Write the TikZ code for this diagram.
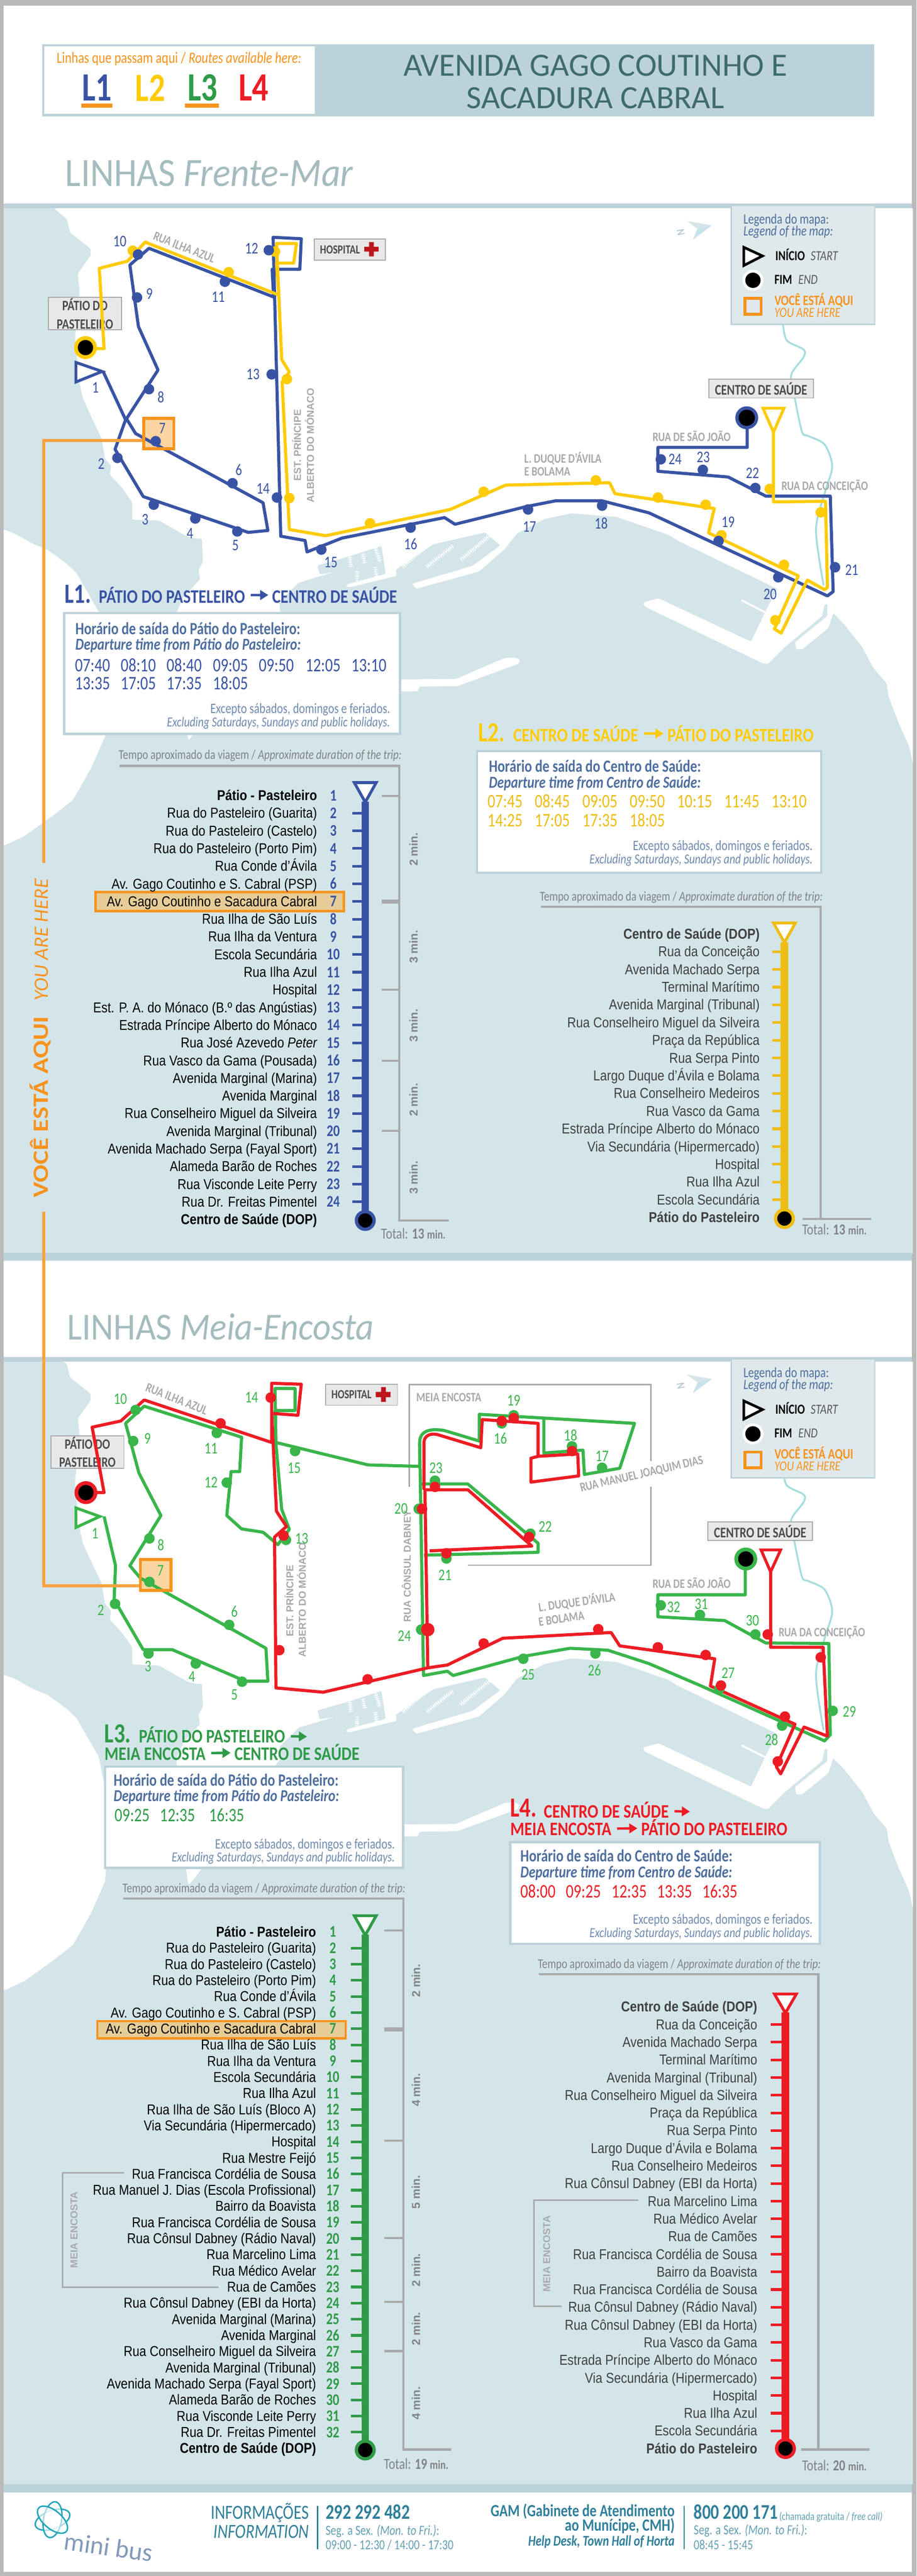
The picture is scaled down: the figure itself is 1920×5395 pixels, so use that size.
\documentclass[tikz,border=0pt]{standalone}
\usepackage{fontspec}
\usepackage{xcolor}
\usetikzlibrary{positioning,arrows.meta,shapes.geometric,calc}
\setmainfont{Carlito}
\newfontfamily\myr[FakeStretch=0.8]{Carlito}
\newfontfamily\myh[FakeStretch=0.84]{Carlito}
\newfontfamily\mys[FakeStretch=0.92]{Carlito}
\newfontfamily\myn{Carlito}
\newfontfamily\myw[FakeStretch=1.2]{Carlito}
\newfontfamily\tabf[FakeStretch=0.86]{Liberation Sans}
\newfontfamily\widf{Liberation Sans}
\newcommand{\fsz}[1]{\fontsize{#1}{#1}\selectfont}

\definecolor{sea}{HTML}{D4E5EA}
\definecolor{band}{HTML}{BCD2DA}
\definecolor{legendbg}{HTML}{DFE9EC}
\definecolor{river}{HTML}{A8DEDD}
\definecolor{frame}{HTML}{B9B9B9}
\definecolor{lblue}{HTML}{3953A4}
\definecolor{lyellow}{HTML}{FFCB05}
\definecolor{lyellowb}{HTML}{EEBD14}
\definecolor{lgreen}{HTML}{39B54A}
\definecolor{lgreenb}{HTML}{2F9A47}
\definecolor{lred}{HTML}{ED1C24}
\definecolor{here}{HTML}{F7931E}
\definecolor{herefill}{HTML}{FDD5A0}
\definecolor{rowfill}{HTML}{E6CD98}
\definecolor{graytxt}{HTML}{A7A9AC}
\definecolor{graylab}{HTML}{808285}
\definecolor{boxtxt}{HTML}{4E6E9E}
\definecolor{boxnote}{HTML}{6F8BB0}
\definecolor{teal2}{HTML}{2F7F9B}
\definecolor{title}{HTML}{3E6B6F}
\definecolor{sectitle}{HTML}{A4BCBE}

\tikzset{
  lab/.style={inner sep=0pt, outer sep=0pt},
  stoplab/.style={lab, anchor=mid east, yshift=-8pt, font=\tabf\fsz{30}},
  stopnum/.style={lab, anchor=mid, yshift=-8.5pt, font=\myr\bfseries\fsz{34}},
  mapnum/.style={lab, anchor=mid, yshift=-8.5pt, font=\myr\fsz{34}},
  street/.style={lab, font=\myr\bfseries\fsz{27}, text=graytxt},
  streetw/.style={street, anchor=mid west, yshift=-7pt},
  widelab/.style={lab, font=\widf\bfseries\fsz{21}, text=graytxt},
  streetv/.style={widelab, anchor=mid west, xshift=5pt, rotate=90},
  placebox/.style={lab, draw=graytxt, line width=2pt, fill=black!9, font=\myr\bfseries\fsz{31}, text=black!70, align=center},
  timebox/.style={draw=band, line width=5pt, fill=white},
  boxhead/.style={lab, anchor=mid west, yshift=-9pt, font=\myr\bfseries\fsz{36}, text=boxtxt},
  boxheadi/.style={boxhead, font=\myr\bfseries\itshape\fsz{35}},
  timetxt/.style={lab, anchor=mid west, yshift=-9pt, font=\myr\fsz{40}},
  note/.style={lab, anchor=mid east, yshift=-7pt, font=\myr\fsz{30}, text=boxnote},
  notei/.style={note, font=\myr\itshape\fsz{29}},
  durhead/.style={lab, anchor=mid east, yshift=-7pt, font=\myr\fsz{28}, text=graylab},
  durline/.style={draw=graytxt, line width=4.5pt},
  durtxt/.style={lab, rotate=90, font=\widf\bfseries\fsz{24}, text=graylab},
  totaltxt/.style={lab, anchor=mid west, yshift=-8pt, font=\myr\fsz{32}, text=graylab},
  linehead/.style={lab, anchor=mid west, yshift=-10.5pt, font=\myh\bfseries\fsz{40}},
  lineno/.style={lab, anchor=mid west, yshift=-14pt, font=\myr\bfseries\fsz{58}},
  headarrow/.style={line width=5pt, -{Triangle[length=17pt,width=20pt]}, shorten <=12pt, shorten >=8pt},
  route/.style={line width=6.5pt, line join=round},
  legtxt/.style={lab, anchor=mid west, yshift=-7pt},
  foot/.style={lab, yshift=-7pt, font=\myr\fsz{29}, text=teal2!75},
  foothead/.style={lab, yshift=-10pt, font=\myr\fsz{42}, text=teal2},
}

% land of Faial, same for both maps
\newcommand{\landshape}{
  \fill[white, rounded corners=3pt] (113,436) -- (140,459) -- (147,487) -- (190,521) -- (190,535) -- (163,573) -- (167,612) -- (157,707) -- (167,803) -- (173,832) -- (190,870) -- (213,918) -- (220,961) -- (233,975) -- (230,994) -- (257,1023) -- (277,1052) -- (277,1088) -- (333,1090) -- (393,1124) -- (410,1128) -- (423,1128) -- (425,1177) -- (416,1193) -- (419,1213) -- (385,1250) -- (370,1282) -- (370,1300) -- (392,1535) -- (395,1550) -- (408,1535) -- (587,1285) -- (585,1260) -- (626,1220) -- (700,1198) -- (669,1203) -- (665,1184) -- (732,1165) -- (799,1143) -- (808,1202) -- (729,1223) -- (724,1228) -- (732,1230) -- (831,1206) -- (829,1193) -- (907,1140) -- (1016,1115) -- (1048,1142) -- (990,1185) -- (882,1217) -- (863,1223) -- (872,1233) -- (1003,1197) -- (1057,1150) -- (1083,1117) -- (1140,1087) -- (1197,1075) -- (1293,1083) -- (1400,1120) -- (1419,1132) -- (1628,1233) -- (1604,1279) -- (1573,1344) -- (1379,1253) -- (1347,1262) -- (1350,1270) -- (1597,1389) -- (1608,1391) -- (1644,1355) -- (1722,1290) -- (1727,1265) -- (1733,1265) -- (1733,1290) -- (1665,1345) -- (1668,1360) -- (1680,1360) -- (1735,1315) -- (1745,1284) -- (1767,1306) -- (1806,1355) -- (1830,1400) -- (1857,1431) -- (1861,1458) -- (1881,1511) -- (1905,1565) -- (1912,1600) -- (1912,436) -- cycle;
  \fill[white, rounded corners=3pt] (8,1109) -- (33,1119) -- (67,1138) -- (100,1152) -- (140,1181) -- (160,1200) -- (207,1282) -- (230,1400) -- (220,1542) -- (191,1608) -- (153,1675) -- (115,1705) -- (51,1751) -- (8,1771) -- cycle;
  \fill[white, rounded corners=3pt] (840,1423) -- (955,1422) -- (1057,1378) -- (1079,1377) -- (1089,1382) -- (1086,1390) -- (958,1437) -- (878,1438) -- (875,1448) -- (840,1448) -- cycle;
  % pontoons
  \foreach \xa/\ya/\xb/\yb in {732/1163/735/1187, 760/1160/764/1180, 786/1147/796/1177, 748/1197/748/1218, 786/1188/789/1208, 843/1187/888/1147, 894/1187/949/1143, 965/1172/1028/1120}{
    \draw[white, line width=1.5pt] (\xa,\ya) -- (\xb,\yb);
    \draw[white, line width=9pt, dash pattern=on 1.5pt off 3pt] (\xa,\ya) -- (\xb,\yb);
  }
  \draw[white, line width=4pt] (1553,1257) -- (1602,1282);
  % stream
  \draw[river, line width=4pt, line join=round] plot[smooth] coordinates {(1640,679) (1648,713) (1683,732) (1683,748) (1657,786) (1665,836) (1680,905) (1693,913) (1727,931) (1743,977) (1727,1034) (1709,1110) (1725,1226)};
}

% rows of a line table: name, first y, step, right x, labels
\newcommand{\stoprows}[5]{
  \foreach \t [count=\i] in {#5}{
    \pgfmathsetmacro\yy{#2+(\i-1)*(#3)}
    \node[stoplab] (#1row\i) at (#4,\yy) {\t};
  }
}
% numbers: name, first y, step, x, count, colour
\newcommand{\stopnums}[6]{
  \foreach \i in {1,...,#5}{
    \pgfmathsetmacro\yy{#2+(\i-1)*(#3)}
    \node[stopnum, text=#6] (#1num\i) at (#4,\yy) {\i};
  }
}
% ticks: first y, step, x from, x to, count, colour
\newcommand{\stopticks}[6]{
  \foreach \i in {2,...,#5}{
    \pgfmathsetmacro\yy{#1+(\i-1)*(#2)}
    \draw[#6, line width=5.5pt] (#3,\yy) -- (#4,\yy);
  }
}
% bar with start triangle and end ring: x, top y, tip y, end y, colour
\newcommand{\linebar}[5]{
  \draw[#5, line width=16pt] (#1,#3-8) -- (#1,#4);
  \draw[#5, line width=6pt, fill=white, line join=miter] ($(#1,#2)+(-23,3)$) -- ($(#1,#2)+(23,3)$) -- (#1,#3-7) -- cycle;
  \fill[#5] (#1,#4) circle[radius=22pt];
  \fill[black] (#1,#4) circle[radius=15pt];
}

\begin{document}
\begin{tikzpicture}[x=1pt, y=-1pt]
\useasboundingbox (0,0) rectangle (1920,5395);
%Page
\fill[frame] (0,0) rectangle (1920,5395);
\fill[white] (8,12) rectangle (1910,5386);

%Header
\fill[band] (89,93) rectangle (1831,244);
\fill[white] (93,97) rectangle (659,238);
\node[lab, font=\myr\fsz{33}, text=here] (hdrroutes) at (375,123) {Linhas que passam aqui / \itshape Routes available here:};
\node[lab, font=\myr\bfseries\fsz{84}, text=lblue] (hdrl1) at (203,184) {L1};
\node[lab, font=\myr\bfseries\fsz{84}, text=lyellow] (hdrl2) at (315,184) {L2};
\node[lab, font=\myr\bfseries\fsz{84}, text=lgreenb] (hdrl3) at (424,184) {L3};
\node[lab, font=\myr\bfseries\fsz{84}, text=lred] (hdrl4) at (531,184) {L4};
\fill[here] (171,217) rectangle (235,226);
\fill[here] (387,217) rectangle (459,226);
\node[lab, font=\myn\fsz{68}, text=title] (hdrtitlea) at (1247,137) {AVENIDA GAGO COUTINHO E};
\node[lab, font=\myn\fsz{68}, text=title] (hdrtitleb) at (1247,205) {SACADURA CABRAL};

%Section titles
\node[lab, anchor=mid west, yshift=-21pt, font=\mys\fsz{84}, text=sectitle] (secfrente) at (137,367) {LINHAS \itshape Frente-Mar};
\node[lab, anchor=mid west, yshift=-20pt, font=\mys\fsz{80}, text=sectitle] (secmeia) at (141,2783) {LINHAS \itshape Meia-Encosta};

%Map backgrounds
\fill[sea] (8,436) rectangle (1912,2625);
\fill[sea] (8,2852) rectangle (1912,5203);
\begin{scope}
  \clip (8,436) rectangle (1912,2625);
  \landshape
\end{scope}
\begin{scope}
  \clip (8,2852) rectangle (1912,5203);
  \begin{scope}[shift={(0,2398)}]
    \landshape
  \end{scope}
\end{scope}
\fill[band] (8,426) rectangle (1910,436);
\fill[band] (8,2624) rectangle (1910,2640);
\fill[band] (8,2842) rectangle (1910,2852);
\fill[band] (8,5203) rectangle (1910,5220);

%Top map: labels
\node[street, rotate=-21.5] (topilha) at (386,518) {RUA ILHA AZUL};
\node[streetv] (topest) at (623,1007) {EST. PRÍNCIPE};
\node[streetv] (topalb) at (650,1053) {ALBERTO DO MÓNACO};
\node[streetw] (topduque) at (1098,960) {L. DUQUE D’ÁVILA};
\node[streetw] (topbol) at (1098,987) {E BOLAMA};
\node[streetw] (topsjoao) at (1367,915) {RUA DE SÃO JOÃO};
\node[streetw] (topconc) at (1637,1017) {RUA DA CONCEIÇÃO};
\node[placebox, minimum width=149pt, minimum height=44pt, font=\myr\bfseries\fsz{26}] (tophosp) at (733,523) {HOSPITAL\hspace{42pt}};
\fill[lred!80!black] (773,507) rectangle (783,537) (763,517) rectangle (793,527);
\node[placebox, minimum width=153pt, minimum height=68pt, font=\myr\bfseries\fsz{30}] (toppatio) at (178,657) {PÁTIO DO\\[8pt]PASTELEIRO};
\node[placebox, minimum width=219pt, minimum height=39pt] (topcentro) at (1594,814) {CENTRO DE SAÚDE};

%Top map: "you are here" fill
\fill[herefill] (298,873) rectangle (367,943);

%Top map: L1
\draw[lblue, route] (216,778) -- (263,879) -- (241,941) -- (300,1040) -- (520,1115) -- (561,1111) -- (551,1053) -- (284,908) -- (265,877) -- (331,775) -- (290,684) -- (272,555) -- (312,520) -- (573,622) -- (570,564) -- (628,564) -- (631,500) -- (572,497) -- (588,1123) -- (639,1132) -- (643,1156) -- (716,1127) -- (931,1084) -- (953,1098) -- (1102,1061) -- (1163,1049) -- (1261,1049) -- (1359,1074) -- (1733,1248) -- (1745,1239) -- (1739,1039) -- (1604,1039) -- (1525,999) -- (1378,987) -- (1378,937) -- (1565,937) -- (1565,879);
\draw[lblue, line width=6pt, fill=white, line join=miter] (159,759) -- (159,800) -- (214,778) -- cycle;
%Top map: L2
\draw[lyellow, route] (1620,905) -- (1620,1051) -- (1729,1050) -- (1733,1230) -- (1727,1235) -- (1691,1215) -- (1636,1326) -- (1622,1317) -- (1672,1206) -- (1484,1116) -- (1496,1065) -- (1288,1034) -- (1277,1011) -- (1059,1016) -- (943,1067) -- (682,1122) -- (606,1109) -- (591,800) -- (606,779) -- (590,753) -- (584,618) -- (579,551) -- (615,551) -- (621,510) -- (579,510) -- (584,618) -- (304,507) -- (267,547) -- (208,562) -- (218,730) -- (179,730);
\draw[lyellow, line width=6pt, fill=white, line join=miter] (1598,855) -- (1642,855) -- (1620,905) -- cycle;
\foreach \x/\y in {278/525, 479/570, 576/527, 601/794, 606/1043, 775/1096, 1013/1030, 1248/1006, 1378/1042, 1478/1057, 1511/1121, 1642/1183, 1624/1299, 1719/1073, 1612/1024}{
  \fill[lyellow] (\x,\y) circle[radius=11pt];
}
\foreach \x/\y in {246/959, 322/1057, 409/1086, 497/1113, 487/1012, 326/924, 312/815, 287/623, 289/533, 471/590, 563/524, 569/784, 580/1042, 673/1151, 860/1105, 1106/1067, 1261/1059, 1505/1133, 1630/1209, 1749/1188, 1582/1022, 1472/984, 1384/962}{
  \fill[lblue] (\x,\y) circle[radius=11pt];
}
\foreach \n/\x/\y in {1/200/812, 2/212/972, 3/304/1088, 4/398/1117, 5/493/1142, 6/500/984, 7/340/897, 8/337/832, 9/313/616, 10/251/505, 11/457/622, 12/527/521, 13/530/784, 14/551/1023, 15/693/1178, 16/860/1140, 17/1109/1103, 18/1259/1097, 19/1525/1093, 20/1613/1244, 21/1784/1194, 22/1576/991, 23/1473/958, 24/1414/962}{
  \node[mapnum, text=lblue] (topstop\n) at (\x,\y) {\n};
}
\fill[lyellow] (179,728) circle[radius=24pt];
\fill[black] (179,728) circle[radius=16pt];
\fill[lblue] (1564,875) circle[radius=24pt];
\fill[black] (1564,875) circle[radius=17pt];
\draw[here, line width=6pt] (301,876) rectangle (364,940);

%Legend and north arrow, both maps
\foreach \ly/\lname in {0/lega, 2416/legb}{
  \begin{scope}[shift={(0,\ly)}]
    \draw[draw=band, line width=3pt, fill=legendbg] (1532,430) rectangle (1832,679);
    \node[legtxt, font=\myr\fsz{30}, text=boxtxt] (\lname t1) at (1557,459) {Legenda do mapa:};
    \node[legtxt, font=\myr\itshape\fsz{30}, text=boxtxt] (\lname t2) at (1557,484) {Legend of the map:};
    \draw[black, line width=5.5pt, fill=white, line join=miter] (1558,518) -- (1558,556) -- (1597,536) -- cycle;
    \node[legtxt, font=\myr\bfseries\fsz{29}] (\lname t3) at (1624,536) {INÍCIO};
    \node[legtxt, font=\myr\itshape\fsz{29}, text=black!65] (\lname t4) at (1698,536) {START};
    \fill[white] (1577,587) circle[radius=22pt];
    \fill[black] (1577,587) circle[radius=16pt];
    \node[legtxt, font=\myr\bfseries\fsz{29}] (\lname t5) at (1622,586) {FIM};
    \node[legtxt, font=\myr\itshape\fsz{29}, text=black!65] (\lname t6) at (1672,586) {END};
    \draw[here, line width=6pt] (1560,625) rectangle (1594,658);
    \node[legtxt, font=\myr\bfseries\fsz{30}, text=here] (\lname t7) at (1622,630) {VOCÊ ESTÁ AQUI};
    \node[legtxt, font=\myr\itshape\fsz{29}, text=here] (\lname t8) at (1622,655) {YOU ARE HERE};
    \fill[band!60] (1439,463) -- (1491,472) -- (1461,479) -- cycle;
    \fill[band!120!gray] (1491,472) -- (1451,502) -- (1461,479) -- cycle;
    \node[lab, rotate=-80, font=\myr\bfseries\fsz{24}, text=band!90!gray] (\lname n) at (1426,487) {N};
  \end{scope}
}

%L1 panel
\node[lineno, text=lblue] (aone) at (135,1247) {L1.};
\node[linehead, text=lblue] (afrom) at (207,1250) {PÁTIO DO PASTELEIRO};
\node[linehead, text=lblue] (ato) at (570,1250) {CENTRO DE SAÚDE};
\draw[lblue, headarrow] (afrom) -- (ato);
\draw[timebox] (134,1284) rectangle (838,1537);
\node[boxhead] (ahead) at (158,1317) {Horário de saída do Pátio do Pasteleiro:};
\node[boxheadi] (aheadi) at (158,1350) {Departure time from Pátio do Pasteleiro:};
\foreach \t/\x in {07:40/157, 08:10/253, 08:40/349, 09:05/446, 09:50/542, 12:05/640, 13:10/736}{
  \node[timetxt, text=lblue] (atime\x) at (\x,1395) {\t};
}
\foreach \t/\x in {13:35/157, 17:05/253, 17:35/349, 18:05/446}{
  \node[timetxt, text=lblue] (atimeb\x) at (\x,1433) {\t};
}
\node[note] (anote) at (817,1485) {Excepto sábados, domingos e feriados.};
\node[notei] (anotei) at (817,1512) {Excluding Saturdays, Sundays and public holidays.};
\node[durhead] (adur) at (841,1581) {Tempo aproximado da viagem / \itshape Approximate duration of the trip:};
\draw[durline] (250,1604) -- (836,1604) -- (836,2556) -- (940,2556);
\foreach \y/\w in {1667/4.5, 1888/9, 2073/4.5, 2222/4.5, 2368/4.5}{
  \draw[durline, line width=\w pt] (800,\y) -- (836,\y);
}
\foreach \t/\y in {2/1779, 3/1983, 3/2148, 2/2303, 3/2466}{
  \node[durtxt] (adur\y) at (866,\y) {\t{} min.};
}
\node[totaltxt] (atotal) at (798,2584) {Total: \bfseries 13 \fsz{26}min.};
\draw[here, line width=5pt, fill=rowfill] (200,1868) rectangle (720,1908);
\stoprows{a}{1666}{37}{664}{{\bfseries Pátio - Pasteleiro}, Rua do Pasteleiro (Guarita), Rua do Pasteleiro (Castelo), Rua do Pasteleiro (Porto Pim), Rua Conde d’Ávila, Av. Gago Coutinho e S. Cabral (PSP), Av. Gago Coutinho e Sacadura Cabral, Rua Ilha de São Luís, Rua Ilha da Ventura, Escola Secundária, Rua Ilha Azul, Hospital, Est. P. A. do Mónaco (B.º das Angústias), Estrada Príncipe Alberto do Mónaco, Rua José Azevedo {\itshape Peter}, Rua Vasco da Gama (Pousada), Avenida Marginal (Marina), Avenida Marginal, Rua Conselheiro Miguel da Silveira, Avenida Marginal (Tribunal), Avenida Machado Serpa (Fayal Sport), Alameda Barão de Roches, Rua Visconde Leite Perry, Rua Dr. Freitas Pimentel, {\bfseries Centro de Saúde (DOP)}}
\stopnums{a}{1666}{37}{698}{24}{lblue}
\stopticks{1666}{37}{738}{760}{24}{lblue}
\linebar{765}{1636}{1687}{2556}{lblue}

%L2 panel
\node[lineno, text=lyellow] (btwo) at (1002,1537) {L2.};
\node[linehead, text=lyellow] (bfrom) at (1075,1540) {CENTRO DE SAÚDE};
\node[linehead, text=lyellow] (bto) at (1398,1540) {PÁTIO DO PASTELEIRO};
\draw[lyellow, headarrow] (bfrom) -- (bto);
\draw[timebox] (999,1573) rectangle (1720,1828);
\node[boxhead] (bhead) at (1024,1605) {Horário de saída do Centro de Saúde:};
\node[boxheadi] (bheadi) at (1024,1639) {Departure time from Centro de Saúde:};
\foreach \t/\x in {07:45/1021, 08:45/1120, 09:05/1220, 09:50/1319, 10:15/1418, 11:45/1517, 13:10/1616}{
  \node[timetxt, text=lyellowb] (btime\x) at (\x,1680) {\t};
}
\foreach \t/\x in {14:25/1021, 17:05/1120, 17:35/1220, 18:05/1319}{
  \node[timetxt, text=lyellowb] (btimeb\x) at (\x,1720) {\t};
}
\node[note] (bnote) at (1702,1771) {Excepto sábados, domingos e feriados.};
\node[notei] (bnotei) at (1702,1800) {Excluding Saturdays, Sundays and public holidays.};
\node[durhead] (bdur) at (1723,1877) {Tempo aproximado da viagem / \itshape Approximate duration of the trip:};
\draw[durline] (1133,1899) -- (1719,1899) -- (1719,2553);
\draw[durline] (1681,2553) -- (1825,2553);
\node[totaltxt] (btotal) at (1680,2575) {Total: \bfseries 13 \fsz{26}min.};
\begin{scope}[text=black!75]
\stoprows{b}{1956}{37.1}{1591}{{\bfseries Centro de Saúde (DOP)}, Rua da Conceição, Avenida Machado Serpa, Terminal Marítimo, Avenida Marginal (Tribunal), Rua Conselheiro Miguel da Silveira, Praça da República, Rua Serpa Pinto, Largo Duque d’Ávila e Bolama, Rua Conselheiro Medeiros, Rua Vasco da Gama, Estrada Príncipe Alberto do Mónaco, Via Secundária (Hipermercado), Hospital, Rua Ilha Azul, Escola Secundária, {\bfseries Pátio do Pasteleiro}}
\end{scope}
\stopticks{1956}{37.1}{1617}{1637}{16}{lyellowb}
\linebar{1643}{1930}{1981}{2552}{lyellowb}

%Lower map: frame and labels
\draw[graytxt, line width=3pt] (857,3114) -- (857,2900) -- (1363,2900) -- (1363,3060);
\draw[graytxt, line width=3pt] (1363,3114) -- (1363,3278) -- (980,3278);
\node[street] (lowmeia) at (940,2927) {MEIA ENCOSTA};
\node[street, rotate=-21.5] (lowilha) at (370,2930) {RUA ILHA AZUL};
\node[streetv] (lowest) at (607,3427) {EST. PRÍNCIPE};
\node[streetv] (lowalb) at (633,3471) {ALBERTO DO MÓNACO};
\node[streetv] (lowcons) at (853,3397) {RUA CÔNSUL DABNEY};
\node[street, rotate=13] (lowmanuel) at (1344,3088) {RUA MANUEL JOAQUIM DIAS};
\node[streetw, rotate=8] (lowduque) at (1129,3366) {L. DUQUE D’ÁVILA};
\node[streetw, rotate=8] (lowbol) at (1129,3396) {E BOLAMA};
\node[streetw] (lowsjoao) at (1367,3317) {RUA DE SÃO JOÃO};
\node[streetw] (lowconc) at (1631,3418) {RUA DA CONCEIÇÃO};
\node[placebox, minimum width=151pt, minimum height=44pt, font=\myr\bfseries\fsz{26}] (lowhosp) at (757,2921) {HOSPITAL\hspace{42pt}};
\fill[lred!80!black] (798,2905) rectangle (808,2936) (787,2915) rectangle (818,2926);
\node[placebox, minimum width=153pt, minimum height=68pt, font=\myr\bfseries\fsz{30}] (lowpatio) at (183,3041) {PÁTIO DO\\[8pt]PASTELEIRO};
\node[placebox, minimum width=219pt, minimum height=39pt] (lowcentro) at (1592,3207) {CENTRO DE SAÚDE};

%Lower map: "you are here" fill
\fill[herefill] (291,3263) rectangle (361,3334);

%Lower map: L3
\draw[lgreen, route] (218,3176) -- (242,3279) -- (239,3350) -- (300,3455) -- (361,3455) -- (514,3521) -- (561,3521) -- (557,3452) -- (294,3305) -- (272,3279) -- (337,3174) -- (291,3085) -- (263,2981) -- (302,2945) -- (506,3010) -- (502,3082) -- (484,3082) -- (475,3174) -- (506,3202) -- (551,3209) -- (582,3235) -- (606,3203) -- (590,3161) -- (578,3024) -- (576,2954) -- (618,2954) -- (618,2908) -- (576,2908) -- (578,3021) -- (771,3068) -- (879,3071);
\draw[lgreen, route] (879,3071) -- (879,3021) .. controls (879,3000) and (895,2990) .. (931,2996) -- (1004,3018) -- (1004,2962) -- (1329,2981) -- (1298,3075) -- (1224,3088) -- (1221,3037) -- (1139,3043) -- (1139,2973);
\draw[lgreen, route] (882,3108) -- (980,3108) -- (1127,3232) -- (1127,3251) -- (888,3257);
\draw[lgreen, route] (879,3021) -- (887,3509) -- (937,3500) -- (949,3509) -- (1096,3469) -- (1194,3452) -- (1273,3456) -- (1359,3484) -- (1469,3531) -- (1727,3646) -- (1739,3633) -- (1736,3442) -- (1604,3441) -- (1518,3394) -- (1378,3386) -- (1378,3340) -- (1561,3340) -- (1561,3267);
\draw[lgreen, line width=6pt, fill=white, line join=miter] (159,3158) -- (159,3199) -- (209,3176) -- cycle;
%Lower map: L4
\draw[lred, route] (1614,3292) -- (1614,3450) -- (1724,3450) -- (1733,3636) -- (1684,3617) -- (1635,3715) -- (1626,3700) -- (1665,3611) -- (1488,3531) -- (1497,3474) -- (1298,3447) -- (1280,3419) -- (1053,3431) -- (937,3487) -- (896,3493) -- (677,3544) -- (578,3535) -- (575,3219) -- (600,3197) -- (579,3165) -- (569,2960) -- (569,2897) -- (631,2899) -- (624,2964) -- (569,2960) -- (569,3021) -- (302,2932) -- (253,2976) -- (193,2989) -- (218,3126) -- (180,3126);
\draw[lred, route] (896,3493) -- (890,3120) -- (980,3120) -- (1114,3238) -- (900,3248);
\draw[lred, route] (888,3120) -- (888,3021) .. controls (888,3008) and (900,3000) .. (918,3005) -- (1007,3032) -- (1010,2973) -- (1127,2981) -- (1127,3050) -- (1210,3045) -- (1212,3091) -- (1112,3104) -- (1112,3054) -- (1127,3050);
\draw[lred, line width=6pt, fill=white, line join=miter] (1594,3246) -- (1635,3246) -- (1614,3292) -- cycle;
\foreach \x/\y in {241/3359, 311/3463, 410/3484, 507/3522, 480/3403, 313/3313, 313/3222, 279/3018, 284/2953, 454/3001, 475/3105, 599/3225, 618/3039, 1051/2981, 1261/3074, 1198/3029, 1076/2964, 877/3160, 935/3264, 1111/3212, 911/3101, 882/3413, 1096/3474, 1247/3463, 1506/3538, 1638/3614, 1744/3583, 1582/3423, 1466/3382, 1384/3362}{
  \fill[lgreen] (\x,\y) circle[radius=11pt];
}
\foreach \x/\y in {462/2981, 567/2927, 594/3216, 585/3456, 770/3517, 1013/3442, 1253/3412, 1378/3450, 1478/3466, 1510/3530, 1644/3595, 1629/3689, 1608/3423, 1719/3471, 1108/3219, 935/3253, 911/3114, 884/3160, 1051/2976, 1076/2970, 1198/3039}{
  \fill[lred] (\x,\y) circle[radius=11pt];
}
\fill[lred] (896,3413) circle[radius=14pt];
\foreach \n/\x/\y in {1/199/3212, 2/211/3372, 3/310/3490, 4/402/3512, 5/491/3549, 6/491/3376, 7/336/3289, 8/337/3236, 9/309/3013, 10/252/2930, 11/442/3033, 12/442/3105, 13/632/3222, 14/527/2927, 15/616/3074, 16/1048/3013, 17/1261/3050, 18/1195/3006, 19/1076/2933, 20/840/3160, 21/932/3299, 22/1142/3198, 23/913/3074, 24/847/3426, 25/1106/3507, 26/1245/3498, 27/1525/3504, 28/1616/3644, 29/1779/3585, 30/1576/3394, 31/1469/3359, 32/1411/3366}{
  \node[mapnum, text=lgreen] (lowstop\n) at (\x,\y) {\n};
}
\fill[lred] (180,3126) circle[radius=24pt];
\fill[black] (180,3126) circle[radius=16pt];
\fill[lgreen] (1562,3265) circle[radius=24pt];
\fill[black] (1562,3265) circle[radius=16pt];
\draw[here, line width=6pt] (294,3266) rectangle (358,3331);

%You are here line
\coordinate (herea) at (298,923);
\coordinate (hereb) at (92,1807);
\coordinate (herec) at (92,2538);
\coordinate (hered) at (291,3321);
\draw[here!85!white, line width=6.5pt] (herea) -- (92,923) -- (hereb);
\draw[here!85!white, line width=6.5pt] (herec) -- (92,3321) -- (hered);
\node[lab, anchor=mid west, xshift=9pt, rotate=90, font=\myw\bfseries\fsz{46}, text=here] (herebig) at (90,2508) {VOCÊ ESTÁ AQUI};
\node[lab, anchor=mid west, xshift=9pt, rotate=90, font=\myn\itshape\fsz{43}, text=here] (heresmall) at (90,2096) {YOU ARE HERE};

%L3 panel
\node[lineno, text=lgreenb] (cthree) at (219,3633) {L3.};
\node[linehead, text=lgreenb] (cfrom) at (291,3637) {PÁTIO DO PASTELEIRO};
\coordinate (cfree) at (643,3637);
\draw[lgreenb, headarrow, shorten >=0pt] (cfrom) -- (cfree);
\node[linehead, text=lgreenb] (cmeia) at (219,3673) {MEIA ENCOSTA};
\node[linehead, text=lgreenb] (cto) at (491,3673) {CENTRO DE SAÚDE};
\draw[lgreenb, headarrow] (cmeia) -- (cto);
\draw[timebox] (220,3700) rectangle (844,3912);
\node[boxhead] (chead) at (238,3729) {Horário de saída do Pátio do Pasteleiro:};
\node[boxheadi] (cheadi) at (238,3761) {Departure time from Pátio do Pasteleiro:};
\foreach \t/\x in {09:25/240, 12:35/335, 16:35/438}{
  \node[timetxt, text=lgreenb] (ctime\x) at (\x,3803) {\t};
}
\node[note] (cnote) at (827,3863) {Excepto sábados, domingos e feriados.};
\node[notei] (cnotei) at (827,3889) {Excluding Saturdays, Sundays and public holidays.};
\node[durhead] (cdur) at (849,3954) {Tempo aproximado da viagem / \itshape Approximate duration of the trip:};
\draw[durline] (258,3976) -- (845,3976) -- (845,5130) -- (945,5130);
\foreach \y/\w in {4043/4.5, 4250/9, 4483/4.5, 4687/4.5, 4821/4.5, 4924/4.5}{
  \draw[durline, line width=\w pt] (805,\y) -- (845,\y);
}
\foreach \t/\y in {2/4148, 4/4377, 5/4591, 2/4754, 2/4877, 4/5033}{
  \node[durtxt] (cdur\y) at (871,\y) {\t{} min.};
}
\node[totaltxt] (ctotal) at (804,5161) {Total: \bfseries 19 \fsz{26}min.};
\draw[here, line width=5pt, fill=rowfill] (204,4233) rectangle (724,4269);
\draw[graytxt, line width=3.5pt] (260,4551) -- (131,4551) -- (131,4790) -- (457,4790);
\node[widelab, rotate=90] (cenc) at (155,4670) {MEIA ENCOSTA};
\stoprows{c}{4046}{33.8}{662}{{\bfseries Pátio - Pasteleiro}, Rua do Pasteleiro (Guarita), Rua do Pasteleiro (Castelo), Rua do Pasteleiro (Porto Pim), Rua Conde d’Ávila, Av. Gago Coutinho e S. Cabral (PSP), Av. Gago Coutinho e Sacadura Cabral, Rua Ilha de São Luís, Rua Ilha da Ventura, Escola Secundária, Rua Ilha Azul, Rua Ilha de São Luís (Bloco A), Via Secundária (Hipermercado), Hospital, Rua Mestre Feijó, Rua Francisca Cordélia de Sousa, Rua Manuel J. Dias (Escola Profissional), Bairro da Boavista, Rua Francisca Cordélia de Sousa, Rua Cônsul Dabney (Rádio Naval), Rua Marcelino Lima, Rua Médico Avelar, Rua de Camões, Rua Cônsul Dabney (EBI da Horta), Avenida Marginal (Marina), Avenida Marginal, Rua Conselheiro Miguel da Silveira, Avenida Marginal (Tribunal), Avenida Machado Serpa (Fayal Sport), Alameda Barão de Roches, Rua Visconde Leite Perry, Rua Dr. Freitas Pimentel, {\bfseries Centro de Saúde (DOP)}}
\stopnums{c}{4046}{33.8}{697}{32}{lgreenb}
\stopticks{4046}{33.8}{735}{757}{32}{lgreenb}
\linebar{765}{4009}{4060}{5131}{lgreenb}

%L4 panel
\node[lineno, text=lred] (dfour) at (1069,3789) {L4.};
\node[linehead, text=lred] (dfrom) at (1139,3794) {CENTRO DE SAÚDE};
\coordinate (dfree) at (1445,3794);
\draw[lred, headarrow, shorten >=0pt] (dfrom) -- (dfree);
\node[linehead, text=lred] (dmeia) at (1069,3831) {MEIA ENCOSTA};
\node[linehead, text=lred] (dto) at (1343,3831) {PÁTIO DO PASTELEIRO};
\draw[lred, headarrow] (dmeia) -- (dto);
\draw[timebox] (1069,3858) rectangle (1717,4071);
\node[boxhead] (dhead) at (1090,3888) {Horário de saída do Centro de Saúde:};
\node[boxheadi] (dheadi) at (1090,3921) {Departure time from Centro de Saúde:};
\foreach \t/\x in {08:00/1090, 09:25/1185, 12:35/1281, 13:35/1376, 16:35/1471}{
  \node[timetxt, text=lred] (dtime\x) at (\x,3963) {\t};
}
\node[note] (dnote) at (1702,4020) {Excepto sábados, domingos e feriados.};
\node[notei] (dnotei) at (1702,4048) {Excluding Saturdays, Sundays and public holidays.};
\node[durhead] (ddur) at (1719,4113) {Tempo aproximado da viagem / \itshape Approximate duration of the trip:};
\draw[durline] (1129,4135) -- (1714,4135) -- (1714,5130);
\draw[durline] (1678,5130) -- (1821,5130);
\node[totaltxt] (dtotal) at (1680,5164) {Total: \bfseries 20 \fsz{26}min.};
\draw[graytxt, line width=3.5pt] (1337,4608) -- (1118,4608) -- (1118,4830) -- (1176,4830);
\node[widelab, rotate=90] (denc) at (1145,4720) {MEIA ENCOSTA};
\begin{scope}[text=black!75]
\stoprows{d}{4203}{37}{1586}{{\bfseries Centro de Saúde (DOP)}, Rua da Conceição, Avenida Machado Serpa, Terminal Marítimo, Avenida Marginal (Tribunal), Rua Conselheiro Miguel da Silveira, Praça da República, Rua Serpa Pinto, Largo Duque d’Ávila e Bolama, Rua Conselheiro Medeiros, Rua Cônsul Dabney (EBI da Horta), Rua Marcelino Lima, Rua Médico Avelar, Rua de Camões, Rua Francisca Cordélia de Sousa, Bairro da Boavista, Rua Francisca Cordélia de Sousa, Rua Cônsul Dabney (Rádio Naval), Rua Cônsul Dabney (EBI da Horta), Rua Vasco da Gama, Estrada Príncipe Alberto do Mónaco, Via Secundária (Hipermercado), Hospital, Rua Ilha Azul, Escola Secundária, {\bfseries Pátio do Pasteleiro}}
\end{scope}
\stopticks{4203}{37}{1614}{1638}{25}{lred}
\linebar{1645}{4173}{4223}{5128}{lred}

%Footer
\foreach \a in {20,80,140}{
  \draw[teal2!70!cyan, line width=3pt, fill=white, fill opacity=.6, rotate around={\a:(110,5277)}] (110,5277) ellipse[x radius=38pt, y radius=19pt];
}
\node[lab, anchor=mid west, yshift=-12pt, rotate=-8, font=\myn\fsz{54}, text=boxtxt!70] (logo) at (133,5325) {mini bus};
\node[foothead, anchor=mid east] (finfo) at (647,5263) {INFORMAÇÕES};
\node[foothead, anchor=mid east, font=\myr\itshape\fsz{42}] (finfoi) at (647,5303) {INFORMATION};
\draw[teal2, line width=3pt] (665,5248) -- (665,5339);
\node[foothead, anchor=mid west, font=\myr\bfseries\fsz{44}] (fphonea) at (682,5263) {292 292 482};
\node[foot, anchor=mid west] (fhoursa) at (682,5300) {Seg. a Sex. {\itshape (Mon. to Fri.)}:};
\node[foot, anchor=mid west] (ftimea) at (682,5330) {09:00 - 12:30 / 14:00 - 17:30};
\node[foothead, anchor=mid east, font=\myr\bfseries\fsz{36}] (fgama) at (1413,5258) {GAM (Gabinete de Atendimento};
\node[foothead, anchor=mid east, font=\myr\bfseries\fsz{36}] (fgamb) at (1413,5288) {ao Munícipe, CMH)};
\node[foothead, anchor=mid east, font=\myr\bfseries\itshape\fsz{31}] (fgamc) at (1413,5319) {Help Desk, Town Hall of Horta};
\draw[teal2, line width=3pt] (1433,5248) -- (1433,5339);
\node[foothead, anchor=mid west, font=\myr\bfseries\fsz{44}] (fphoneb) at (1453,5263) {800 200 171};
\node[foot, anchor=mid west, font=\myr\fsz{23}] (ffree) at (1632,5268) {(chamada gratuita / \itshape free call)};
\node[foot, anchor=mid west] (fhoursb) at (1453,5299) {Seg. a Sex. {\itshape (Mon. to Fri.)}:};
\node[foot, anchor=mid west] (ftimeb) at (1453,5330) {08:45 - 15:45};
\end{tikzpicture}
\end{document}
